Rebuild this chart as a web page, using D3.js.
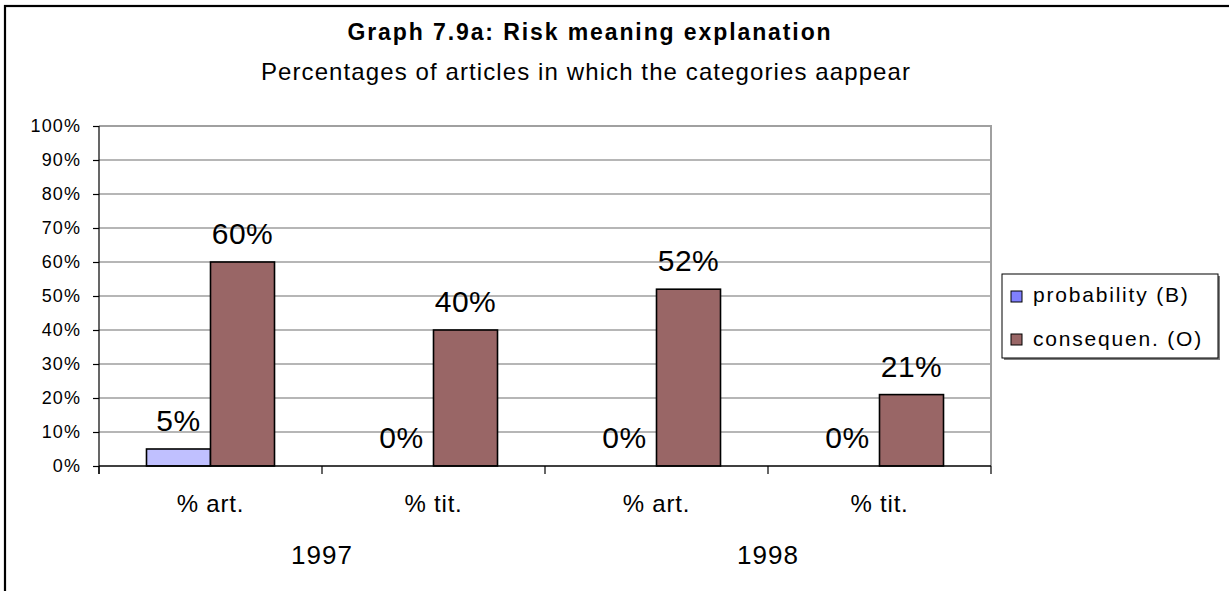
<!DOCTYPE html>
<html><head><meta charset="utf-8">
<script src="https://cdn.jsdelivr.net/npm/d3@7"></script>
<style>
html,body{margin:0;padding:0;background:#fff;}
text{font-family:"Liberation Sans",Arial,sans-serif;fill:#000;}
</style></head>
<body>
<svg id="chart" width="1229" height="591"></svg>
<script>
const titleText = "Graph 7.9a: Risk meaning explanation";
const subtitleText = "Percentages of articles in which the categories aappear";
const categories = ["% art.", "% tit.", "% art.", "% tit."];
const groupKeys = ["1997-art", "1997-tit", "1998-art", "1998-tit"];
const years = ["1997", "1998"];
const seriesNames = ["probability (B)", "consequen. (O)"];
const probability = [5, 0, 0, 0];
const consequence = [60, 40, 52, 21];
const yTicks = [0,10,20,30,40,50,60,70,80,90,100];

const barColors = ["#C0C0FF", "#996666"];
const legendColors = ["#8080FF", "#996666"];

const svg = d3.select("#chart");
const plot = {left: 99, right: 991, top: 126, bottom: 466};

// outer chart border (only top/left visible in crop)
svg.append("rect").attr("x",5).attr("y",6).attr("width",1300).attr("height",700)
  .attr("fill","none").attr("stroke","#000").attr("stroke-width",2.2);

// titles
svg.append("text").attr("x",590).attr("y",40).attr("text-anchor","middle")
  .style("font-size","23px").style("font-weight","bold").style("letter-spacing","1.9px")
  .text(titleText);
svg.append("text").attr("x",586).attr("y",80).attr("text-anchor","middle")
  .style("font-size","24px").style("letter-spacing","1.1px")
  .text(subtitleText);

const y = d3.scaleLinear().domain([0,100]).range([plot.bottom, plot.top]);
const x0 = d3.scaleBand().domain(groupKeys).range([plot.left, plot.right]).paddingInner(0).paddingOuter(0);
const x1 = d3.scaleBand().domain(seriesNames).range([0, x0.bandwidth()]).paddingInner(0).paddingOuter(0.742);

// gridlines
svg.append("g").selectAll("line").data(yTicks.filter(t => t>0 && t<100)).join("line")
  .attr("x1",plot.left).attr("x2",plot.right)
  .attr("y1",d=>y(d)).attr("y2",d=>y(d))
  .attr("stroke","#6e6e6e").attr("stroke-width",1.2);
// plot area border top/right
svg.append("path")
  .attr("d",`M${plot.left},${y(100)}H${plot.right}V${plot.bottom}`)
  .attr("fill","none").attr("stroke","#a0a0a0").attr("stroke-width",2);

// y axis
const yAxis = d3.axisLeft(y).tickValues(yTicks).tickFormat(d=>d+"%").tickSize(6).tickPadding(12);
const gy = svg.append("g").attr("transform",`translate(${plot.left},0)`).call(yAxis);
gy.select(".domain").remove();
gy.selectAll(".tick line").attr("stroke","#000").attr("stroke-width",1.2);
gy.selectAll(".tick text").style("font-size","18px").style("letter-spacing","1.1px")
  .style("font-family","'Liberation Sans',Arial,sans-serif").attr("fill","#000");
svg.append("line").attr("x1",plot.left).attr("x2",plot.left).attr("y1",plot.top).attr("y2",plot.bottom+8)
  .attr("stroke","#000").attr("stroke-width",1.2);

// bars
const rows = groupKeys.map((k,i)=>({key:k, vals:[probability[i], consequence[i]]}));
const groups = svg.append("g").selectAll("g").data(rows).join("g")
  .attr("transform",d=>`translate(${x0(d.key)},0)`);
groups.selectAll("rect").data(d=>d.vals.map((v,j)=>({v, s:seriesNames[j], j})).filter(e=>e.v>0)).join("rect")
  .attr("x",d=>x1(d.s)).attr("width",x1.bandwidth())
  .attr("y",d=>y(d.v)).attr("height",d=>y(0)-y(d.v))
  .attr("fill",d=>barColors[d.j]).attr("stroke","#000").attr("stroke-width",1.6);
groups.selectAll("text").data(d=>d.vals.map((v,j)=>({v, s:seriesNames[j]}))).join("text")
  .attr("x",d=>x1(d.s)+x1.bandwidth()/2).attr("y",d=>y(d.v)-18)
  .attr("text-anchor","middle").style("font-size","30px").style("letter-spacing","0.5px")
  .text(d=>d.v+"%");

// x axis line and ticks
svg.append("line").attr("x1",plot.left).attr("x2",plot.right).attr("y1",plot.bottom).attr("y2",plot.bottom)
  .attr("stroke","#000").attr("stroke-width",1.5);
const bounds = groupKeys.map(k=>x0(k)).concat([plot.right]);
svg.append("g").selectAll("line").data(bounds).join("line")
  .attr("x1",d=>d).attr("x2",d=>d).attr("y1",plot.bottom).attr("y2",plot.bottom+8)
  .attr("stroke","#000").attr("stroke-width",1.2);
svg.append("g").selectAll("text").data(groupKeys).join("text")
  .attr("x",(d)=>x0(d)+x0.bandwidth()/2).attr("y",512)
  .attr("text-anchor","middle").style("font-size","24px").style("letter-spacing","0.8px")
  .text((d,i)=>categories[i]);
svg.append("g").selectAll("text").data(years).join("text")
  .attr("x",(d,i)=>x0(groupKeys[i*2+1])).attr("y",564)
  .attr("text-anchor","middle").style("font-size","26px").style("letter-spacing","1px")
  .text(d=>d);

// legend
const lg = svg.append("g");
lg.append("rect").attr("x",1004).attr("y",276).attr("width",216).attr("height",84).attr("fill","#808080");
lg.append("rect").attr("x",1002).attr("y",274).attr("width",216).attr("height",84)
  .attr("fill","#fff").attr("stroke","#000").attr("stroke-width",1);
seriesNames.forEach((s,i)=>{
  lg.append("rect").attr("x",1011).attr("y",291+i*43).attr("width",11).attr("height",11)
    .attr("fill",legendColors[i]).attr("stroke","#000").attr("stroke-width",1);
  lg.append("text").attr("x",1033).attr("y",302+i*44)
    .style("font-size","21px").style("letter-spacing","1.8px").text(s);
});
</script>
</body></html>
